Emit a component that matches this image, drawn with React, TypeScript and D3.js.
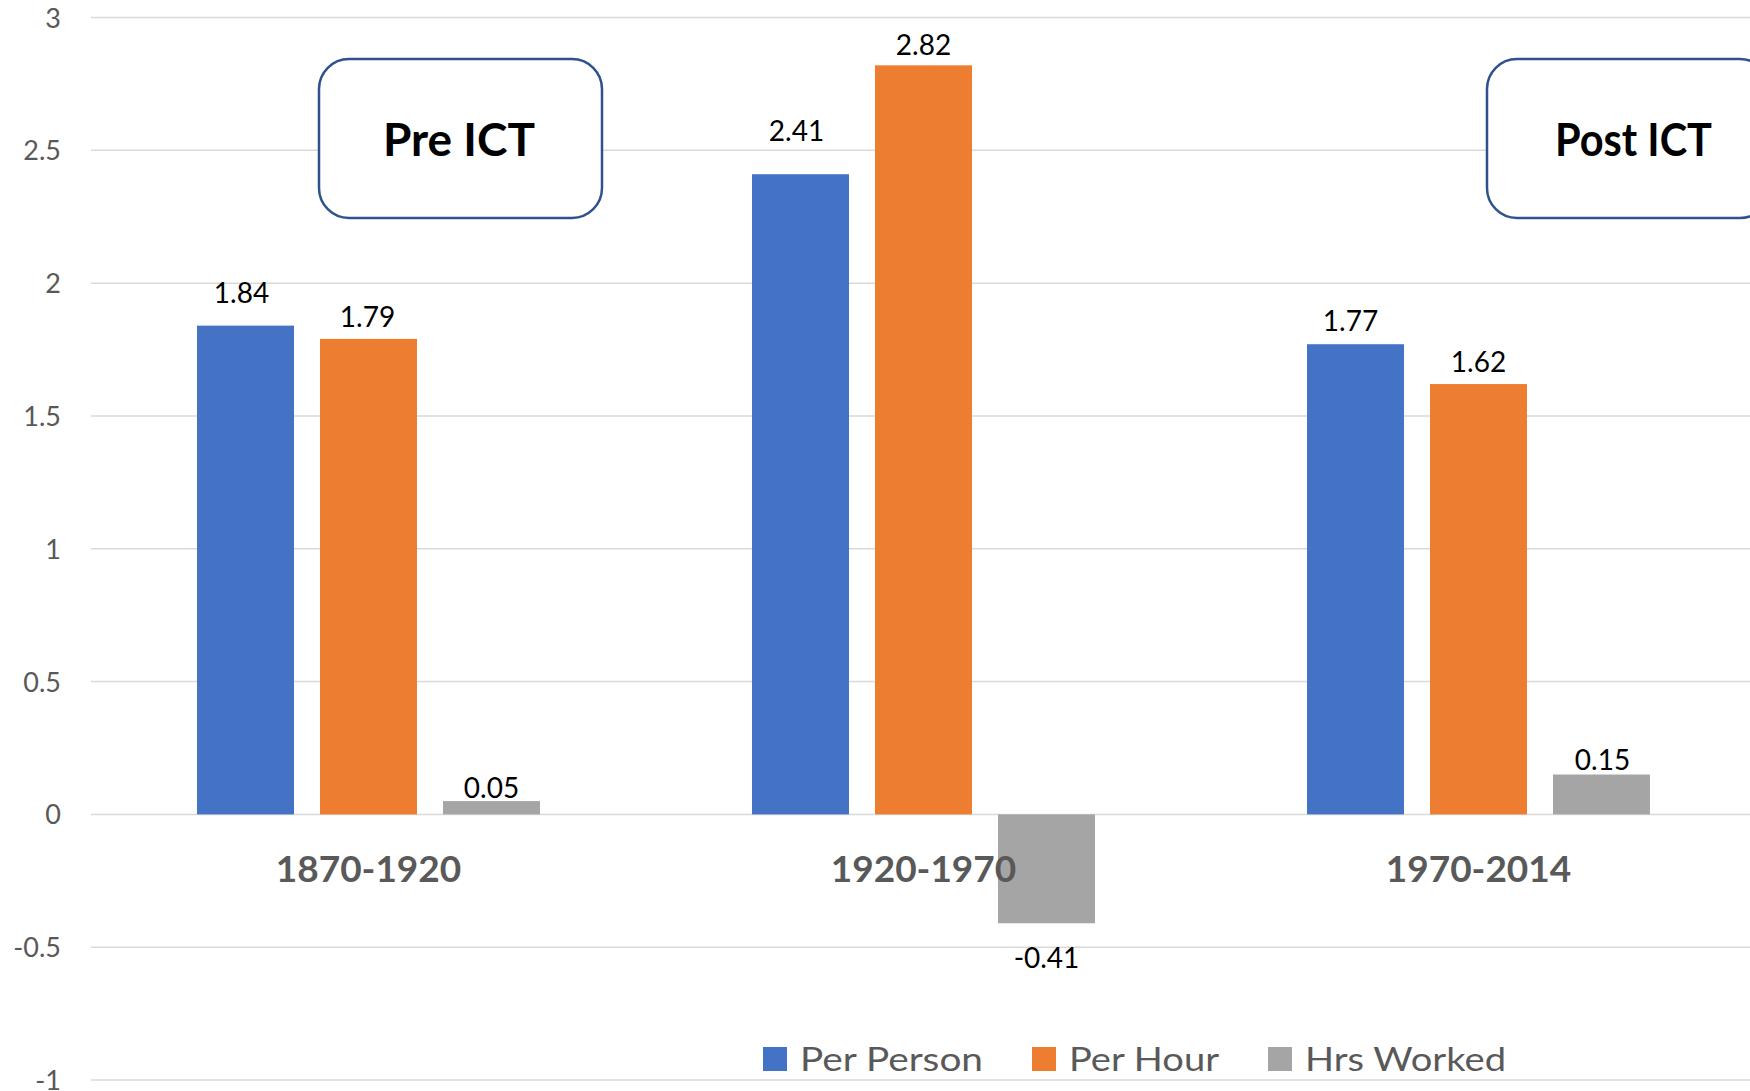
import React, {Component} from 'react';
import * as d3 from 'd3';

const chartContainer = "chartContainer";
const chartSize = {width: 1750, height: 1091};

const categories = ["1870-1920", "1920-1970", "1970-2014"];
const seriesNames = ["Per Person", "Per Hour", "Hrs Worked"];
const perPerson = [1.84, 2.41, 1.77];
const perHour = [1.79, 2.82, 1.62];
const hrsWorked = [0.05, -0.41, 0.15];
const yTicks = [-1, -0.5, 0, 0.5, 1, 1.5, 2, 2.5, 3];
const callouts = ["Pre ICT", "Post ICT"];

const colors = ["#4472C4", "#ED7D31", "#A5A5A5"];
const font = "Lato, 'Open Sans', sans-serif";

// label nudges (px) as placed by hand in the original
const labelDy = [[-23, -33, -13], [-12, -10, -12], [-3, 45, -5]];
const labelDx = [[-4, -4, -5], [-1, 0, 0], [0, 0, 1]];

class App extends Component {
    componentDidMount() {
        this.createChart();
    }

    createChart() {
        const el = document.getElementById(chartContainer);
        if (!el) return;
        el.innerHTML = "";
        const seriesValues = [perPerson, perHour, hrsWorked];

        const xScale = d3.scaleBand<string>()
            .domain(categories)
            .range([91, 1756]);
        const innerScale = d3.scaleBand<string>()
            .domain(seriesNames)
            .range([0, 343])
            .paddingInner(26 / 123);
        const yScale = d3.scaleLinear()
            .domain([-1, 3])
            .range([1080, 17.5]);
        const barX = (i: number, name: string) =>
            xScale(categories[i])! + xScale.bandwidth() / 2 - 171.5 + innerScale(name)!;

        const svg = d3.select("#" + chartContainer)
            .append("svg")
            .attr("width", chartSize.width)
            .attr("height", chartSize.height)
            .style("position", "absolute")
            .style("left", 0)
            .style("top", 0)
            .style("background", "#fff");

        // gridlines + y labels
        svg.append("g")
            .selectAll("line")
            .data(yTicks)
            .enter()
            .append("line")
            .attr("x1", 91)
            .attr("x2", chartSize.width)
            .attr("y1", d => yScale(d))
            .attr("y2", d => yScale(d))
            .attr("stroke", "#D9D9D9")
            .attr("stroke-width", 1.5);
        svg.append("g")
            .selectAll("text")
            .data(yTicks)
            .enter()
            .append("text")
            .attr("x", 61)
            .attr("y", d => yScale(d) + 10)
            .attr("text-anchor", "end")
            .attr("font-family", font)
            .attr("font-size", 27)
            .attr("fill", "#595959")
            .text(d => String(d));

        // bars
        seriesValues.forEach((values, s) => {
            const name = seriesNames[s];
            const g = svg.append("g");
            g.selectAll("rect")
                .data(values)
                .enter()
                .append("rect")
                .attr("x", (d, i) => barX(i, name))
                .attr("y", d => yScale(Math.max(d, 0)))
                .attr("width", innerScale.bandwidth())
                .attr("height", d => Math.abs(yScale(d) - yScale(0)))
                .attr("fill", colors[s]);
            g.selectAll("text")
                .data(values)
                .enter()
                .append("text")
                .attr("x", (d, i) => barX(i, name) + innerScale.bandwidth() / 2 + labelDx[s][i])
                .attr("y", (d, i) => yScale(d) + labelDy[s][i])
                .attr("text-anchor", "middle")
                .attr("font-family", font)
                .attr("font-size", 28)
                .attr("fill", "#000")
                .text(d => d.toFixed(2));
        });

        // category labels
        svg.append("g")
            .selectAll("text")
            .data(categories)
            .enter()
            .append("text")
            .attr("x", d => xScale(d)! + xScale.bandwidth() / 2)
            .attr("y", 882)
            .attr("text-anchor", "middle")
            .attr("font-family", font)
            .attr("font-weight", "bold")
            .attr("font-size", 37)
            .attr("fill", "#595959")
            .text(d => d);

        // callout boxes
        const boxX = [319, 1487];
        const textX = [383, 1555];
        const textW = [152, 157];
        callouts.forEach((label, i) => {
            svg.append("rect")
                .attr("x", boxX[i])
                .attr("y", 59)
                .attr("width", 283)
                .attr("height", 159)
                .attr("rx", 30)
                .attr("fill", "#fff")
                .attr("stroke", "#2F528F")
                .attr("stroke-width", 2.5);
            svg.append("text")
                .attr("x", textX[i])
                .attr("y", 156)
                .attr("font-family", font)
                .attr("font-weight", "bold")
                .attr("font-size", 46)
                .attr("fill", "#000")
                .attr("textLength", textW[i])
                .attr("lengthAdjust", "spacingAndGlyphs")
                .text(label);
        });

        // legend
        const legendX = [763, 1032, 1268];
        const legendW = [183, 150, 201];
        const legend = svg.append("g");
        seriesNames.forEach((name, i) => {
            legend.append("rect")
                .attr("x", legendX[i])
                .attr("y", 1047)
                .attr("width", 24)
                .attr("height", 24)
                .attr("fill", colors[i]);
            legend.append("text")
                .attr("x", legendX[i] + 37)
                .attr("y", 1071)
                .attr("font-family", font)
                .attr("font-size", 33)
                .attr("fill", "#595959")
                .attr("textLength", legendW[i])
                .attr("lengthAdjust", "spacingAndGlyphs")
                .text(name);
        });
    }

    render() {
        return <div id={chartContainer} style={{width: chartSize.width, height: chartSize.height}}/>;
    }
}

export default App;
